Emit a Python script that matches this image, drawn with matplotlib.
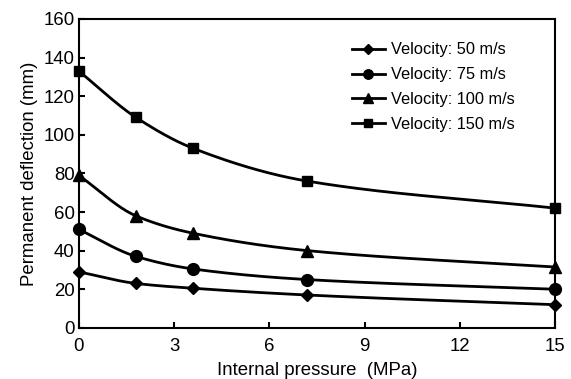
import matplotlib.pyplot as plt
import numpy as np

plt.rcParams['font.family'] = ['Liberation Sans', 'DejaVu Sans']

pressure = [0, 1.8, 3.6, 7.2, 15]
v50 = [29, 23, 20.5, 17, 12]
v75 = [51, 37, 30.5, 25, 20]
v100 = [79, 58, 49, 40, 31.5]
v150 = [133, 109, 93, 76, 62]

series = [
    ('Velocity: 50 m/s', v50, 'D', 6.5),
    ('Velocity: 75 m/s', v75, 'o', 8.5),
    ('Velocity: 100 m/s', v100, '^', 8.5),
    ('Velocity: 150 m/s', v150, 's', 7.5),
]


def pchip(x, y, xs):
    # monotone cubic interpolation, used only to draw a smooth line through the points
    x = np.asarray(x, float)
    y = np.asarray(y, float)
    h = np.diff(x)
    d = np.diff(y) / h
    m = np.zeros_like(y)
    for k in range(1, len(x) - 1):
        if d[k - 1] * d[k] > 0:
            w1 = 2 * h[k] + h[k - 1]
            w2 = h[k] + 2 * h[k - 1]
            m[k] = (w1 + w2) / (w1 / d[k - 1] + w2 / d[k])
    m[0] = d[0]
    m[-1] = d[-1]
    out = np.empty_like(xs)
    for i, xv in enumerate(xs):
        k = min(np.searchsorted(x, xv, side='right') - 1, len(x) - 2)
        t = (xv - x[k]) / h[k]
        h00 = 2 * t**3 - 3 * t**2 + 1
        h10 = t**3 - 2 * t**2 + t
        h01 = -2 * t**3 + 3 * t**2
        h11 = t**3 - t**2
        out[i] = h00 * y[k] + h10 * h[k] * m[k] + h01 * y[k + 1] + h11 * h[k] * m[k + 1]
    return out


fig = plt.figure(figsize=(5.71, 3.79), dpi=100)
ax = fig.add_axes([0.138, 0.135, 0.834, 0.815])

xs = np.linspace(0, 15, 300)
for label, vals, marker, ms in series:
    ax.plot(xs, pchip(pressure, vals, xs), color='black', lw=2, clip_on=False)
    ax.plot(pressure, vals, linestyle='none', marker=marker, ms=ms, color='black', clip_on=False)
    ax.plot([], [], color='black', lw=2, marker=marker, ms=ms, label=label)

ax.set_xlim(0, 15)
ax.set_ylim(0, 160)
ax.set_xticks([0, 3, 6, 9, 12, 15])
ax.set_yticks(range(0, 161, 20))
ax.tick_params(direction='in', labelsize=13.4, width=1.5, length=4, pad=3)
ax.tick_params(axis='x', pad=7)
for s in ax.spines.values():
    s.set_linewidth(1.5)

ax.set_xlabel('Internal pressure  (MPa)', fontsize=13.4, labelpad=5)
ax.set_ylabel('Permanent deflection (mm)', fontsize=13.4, labelpad=4)

ax.legend(loc='upper left', bbox_to_anchor=(0.56, 0.945), frameon=False, fontsize=11.8,
          handlelength=2.0, handletextpad=0.4, labelspacing=0.6, markerscale=0.8,
          borderaxespad=0)

fig.savefig('out.png')
